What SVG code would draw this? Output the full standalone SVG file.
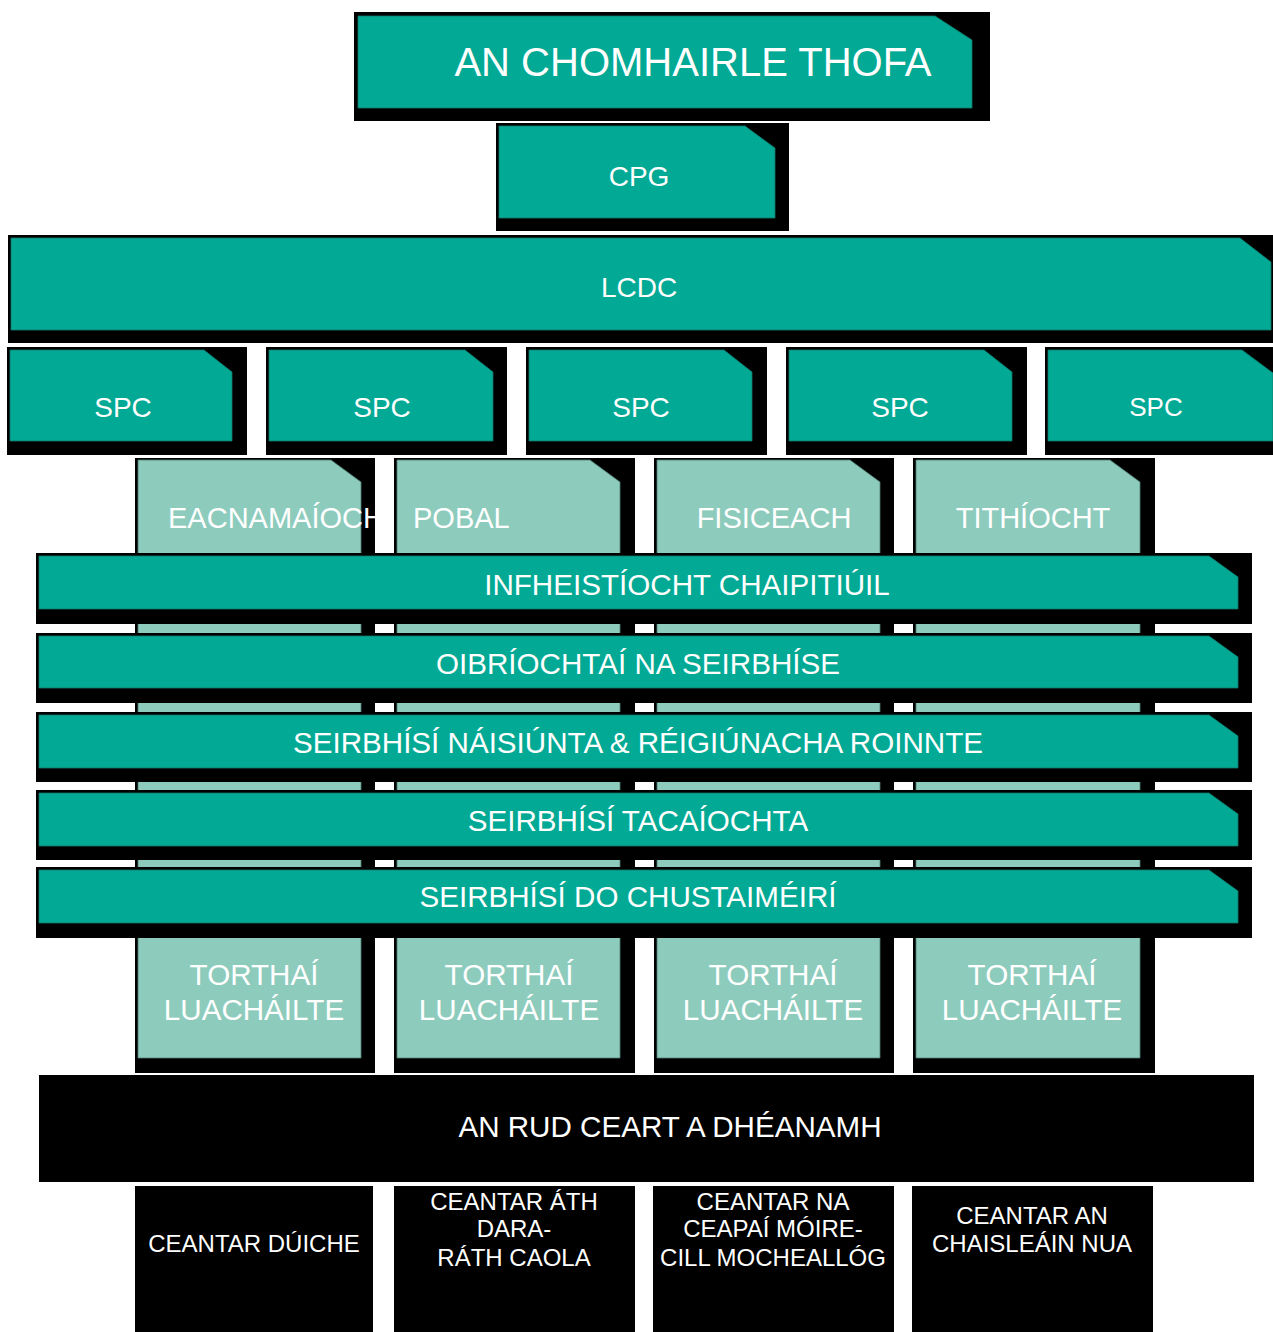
<svg xmlns="http://www.w3.org/2000/svg" width="1273" height="1332" viewBox="0 0 1273 1332">
<defs>
<style>
.bk{fill:#000}
.tl{fill:#02A994;stroke:#117a6b;stroke-width:0.8}
.lt{fill:#8DCBBD;stroke:#4f7d73;stroke-width:0.8}
text{font-family:"Liberation Sans",Arial,sans-serif;fill:#fff;text-anchor:middle}
.t29{font-size:29px}
.t30{font-size:29.6px}
.t28{font-size:28px}
.t23{font-size:24px}
</style>
<clipPath id="clipEac"><rect x="135" y="458" width="240" height="100"/></clipPath>
</defs>
<rect width="1273" height="1332" fill="#fff"/>

<g id="node-top">
<rect class="bk" x="354" y="12" width="636" height="109"/>
<path class="tl" d="M358 16 H935 L972 40 V108 H358 Z"/>
<text x="693" y="76" style="font-size:40px">AN CHOMHAIRLE THOFA</text>
</g>

<g id="node-cpg">
<rect class="bk" x="496" y="123" width="293" height="108"/>
<path class="tl" d="M499 126 H745 L775 148 V218 H499 Z"/>
<text class="t28" x="639" y="186">CPG</text>
</g>

<g id="node-lcdc">
<rect class="bk" x="8" y="235" width="1265" height="108"/>
<path class="tl" d="M11 238 H1240 L1271 262 V330 H11 Z"/>
<text class="t28" x="639" y="297">LCDC</text>
</g>

<g id="node-spc1">
<rect class="bk" x="7" y="347" width="240" height="108"/>
<path class="tl" d="M10 350 H204 L232 372 V441 H10 Z"/>
<text class="t28" x="123" y="417">SPC</text>
</g>
<g id="node-spc2">
<rect class="bk" x="266" y="347" width="241" height="108"/>
<path class="tl" d="M269 350 H465 L493 372 V441 H269 Z"/>
<text class="t28" x="382" y="417">SPC</text>
</g>
<g id="node-spc3">
<rect class="bk" x="526" y="347" width="241" height="108"/>
<path class="tl" d="M529 350 H724 L752 372 V441 H529 Z"/>
<text class="t28" x="641" y="417">SPC</text>
</g>
<g id="node-spc4">
<rect class="bk" x="786" y="347" width="241" height="108"/>
<path class="tl" d="M789 350 H984 L1012 372 V441 H789 Z"/>
<text class="t28" x="900" y="417">SPC</text>
</g>
<g id="node-spc5">
<rect class="bk" x="1045" y="347" width="228" height="108"/>
<path class="tl" d="M1048 350 H1242 L1273 373 V441 H1048 Z"/>
<text x="1156" y="416" style="font-size:26px">SPC</text>
</g>

<g id="node-col1">
<rect class="bk" x="135" y="458" width="240" height="615"/>
<path class="lt" d="M138 460 H331 L361 482 V1058 H138 Z"/>
<text class="t29" x="168" y="528" style="text-anchor:start" clip-path="url(#clipEac)">EACNAMAÍOCH</text>
</g>
<g id="node-col2">
<rect class="bk" x="394" y="458" width="241" height="615"/>
<path class="lt" d="M397 460 H590 L620 482 V1058 H397 Z"/>
<text class="t29" x="413" y="528" style="text-anchor:start">POBAL</text>
</g>
<g id="node-col3">
<rect class="bk" x="654" y="458" width="240" height="615"/>
<path class="lt" d="M657 460 H850 L880 482 V1058 H657 Z"/>
<text class="t29" x="774" y="528">FISICEACH</text>
</g>
<g id="node-col4">
<rect class="bk" x="913" y="458" width="242" height="615"/>
<path class="lt" d="M916 460 H1110 L1140 482 V1058 H916 Z"/>
<text class="t29" x="1033" y="528">TITHÍOCHT</text>
</g>

<g id="node-band1">
<rect class="bk" x="36" y="553" width="1216" height="71"/>
<path class="tl" d="M39 556 H1209 L1238 577 V609 H39 Z"/>
<text class="t30" x="687" y="595">INFHEISTÍOCHT CHAIPITIÚIL</text>
</g>
<g id="node-band2">
<rect class="bk" x="36" y="633" width="1216" height="70"/>
<path class="tl" d="M39 636 H1209 L1238 657 V688 H39 Z"/>
<text class="t30" x="638" y="674">OIBRÍOCHTAÍ NA SEIRBHÍSE</text>
</g>
<g id="node-band3">
<rect class="bk" x="36" y="712" width="1216" height="70"/>
<path class="tl" d="M39 715 H1209 L1238 736 V768 H39 Z"/>
<text class="t30" x="638" y="753">SEIRBHÍSÍ NÁISIÚNTA &amp; RÉIGIÚNACHA ROINNTE</text>
</g>
<g id="node-band4">
<rect class="bk" x="36" y="790" width="1216" height="70"/>
<path class="tl" d="M39 793 H1209 L1238 814 V846 H39 Z"/>
<text class="t30" x="638" y="831">SEIRBHÍSÍ TACAÍOCHTA</text>
</g>
<g id="node-band5">
<rect class="bk" x="36" y="867" width="1216" height="71"/>
<path class="tl" d="M39 870 H1209 L1238 891 V923 H39 Z"/>
<text class="t30" x="628" y="907">SEIRBHÍSÍ DO CHUSTAIMÉIRÍ</text>
</g>

<g id="node-torthai1">
<text class="t30" x="254" y="985">TORTHAÍ</text>
<text class="t30" x="254" y="1020">LUACHÁILTE</text>
</g>
<g id="node-torthai2">
<text class="t30" x="509" y="985">TORTHAÍ</text>
<text class="t30" x="509" y="1020">LUACHÁILTE</text>
</g>
<g id="node-torthai3">
<text class="t30" x="773" y="985">TORTHAÍ</text>
<text class="t30" x="773" y="1020">LUACHÁILTE</text>
</g>
<g id="node-torthai4">
<text class="t30" x="1032" y="985">TORTHAÍ</text>
<text class="t30" x="1032" y="1020">LUACHÁILTE</text>
</g>

<g id="node-rud">
<rect class="bk" x="39" y="1075" width="1215" height="107"/>
<text class="t30" x="670" y="1137">AN RUD CEART A DHÉANAMH</text>
</g>

<g id="node-ceantar1">
<rect class="bk" x="135" y="1186" width="238" height="146"/>
<text class="t23" x="254" y="1252">CEANTAR DÚICHE</text>
</g>
<g id="node-ceantar2">
<rect class="bk" x="394" y="1186" width="241" height="146"/>
<text class="t23" x="514" y="1210">CEANTAR ÁTH</text>
<text class="t23" x="514" y="1237">DARA-</text>
<text class="t23" x="514" y="1266">RÁTH CAOLA</text>
</g>
<g id="node-ceantar3">
<rect class="bk" x="653" y="1186" width="241" height="146"/>
<text class="t23" x="773" y="1210">CEANTAR NA</text>
<text class="t23" x="773" y="1237">CEAPAÍ MÓIRE-</text>
<text class="t23" x="773" y="1266">CILL MOCHEALLÓG</text>
</g>
<g id="node-ceantar4">
<rect class="bk" x="912" y="1186" width="241" height="146"/>
<text class="t23" x="1032" y="1224">CEANTAR AN</text>
<text class="t23" x="1032" y="1252">CHAISLEÁIN NUA</text>
</g>

<g id="connectors"></g>
</svg>
